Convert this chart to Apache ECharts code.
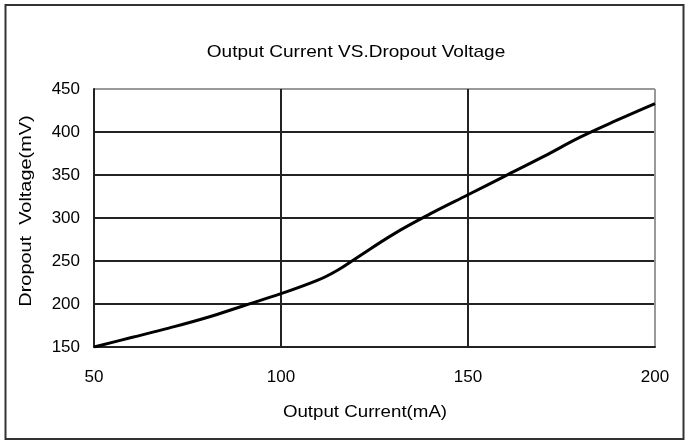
<!DOCTYPE html>
<html>
<head>
<meta charset="utf-8">
<script src="https://cdn.jsdelivr.net/npm/echarts@6/dist/echarts.min.js"></script>
<style>
  html, body { margin: 0; padding: 0; background: #fff; }
  #chart { width: 688px; height: 441px; }
</style>
</head>
<body>
<div id="chart"></div>
<script>
// output current (mA) and dropout voltage (mV)
const currentMA = [50, 60, 70, 80, 90, 100, 110, 115, 120, 130, 140, 150, 160, 170, 180, 190, 200]
const dropoutMV = [150, 161, 172, 184, 198, 212, 228, 239, 253, 281, 305, 327, 349, 371, 394, 414, 433]

const xTicks = [50, 100, 150, 200]
const yTicks = [150, 200, 250, 300, 350, 400, 450]

const fontFamily = '"Liberation Sans", Arial, sans-serif'
const textColor = '#000'

const chart = echarts.init(document.getElementById('chart'), null, { renderer: 'canvas' })

// text in the original is drawn a bit wide, so stretch it horizontally
function label(text, x, y, scale, rotation) {
  return {
    type: 'text',
    x: x,
    y: y,
    rotation: rotation || 0,
    scaleX: scale,
    style: {
      text: text,
      fill: textColor,
      font: '17px ' + fontFamily,
      textAlign: 'center',
      textVerticalAlign: 'middle'
    }
  }
}

chart.setOption({
  animation: false,
  backgroundColor: '#fff',
  graphic: [
    {
      type: 'rect',
      shape: { x: 5.5, y: 5, width: 678, height: 434 },
      style: { fill: 'none', stroke: '#333', lineWidth: 2 }
    },
    label('Output Current VS.Dropout Voltage', 356, 52, 1.12),
    label('Output Current(mA)', 365, 412, 1.1),
    label('Dropout  Voltage(mV)', 26, 211, 1.17, Math.PI / 2)
  ],
  grid: {
    left: 94,
    right: 33,
    top: 89,
    bottom: 94,
    containLabel: false
  },
  xAxis: {
    type: 'value',
    min: xTicks[0],
    max: xTicks[xTicks.length - 1],
    interval: 50,
    axisLine: { show: true, onZero: false, lineStyle: { color: '#222', width: 2 } },
    axisTick: { show: false },
    axisLabel: {
      margin: 22,
      color: textColor,
      fontFamily: fontFamily,
      fontSize: 17
    },
    splitLine: {
      show: true,
      lineStyle: { color: ['#222', '#222', '#222', '#999'], width: 2 }
    }
  },
  yAxis: {
    type: 'value',
    min: yTicks[0],
    max: yTicks[yTicks.length - 1],
    interval: 50,
    axisLine: { show: true, onZero: false, lineStyle: { color: '#222', width: 2 } },
    axisTick: { show: false },
    axisLabel: {
      margin: 14,
      color: textColor,
      fontFamily: fontFamily,
      fontSize: 17
    },
    splitLine: {
      show: true,
      lineStyle: { color: ['#222', '#222', '#222', '#222', '#222', '#222', '#999'], width: 2 }
    }
  },
  series: [{
    type: 'line',
    data: currentMA.map((x, i) => [x, dropoutMV[i]]),
    symbol: 'none',
    smooth: 0.4,
    lineStyle: { color: '#000', width: 3 }
  }]
})
</script>
</body>
</html>
